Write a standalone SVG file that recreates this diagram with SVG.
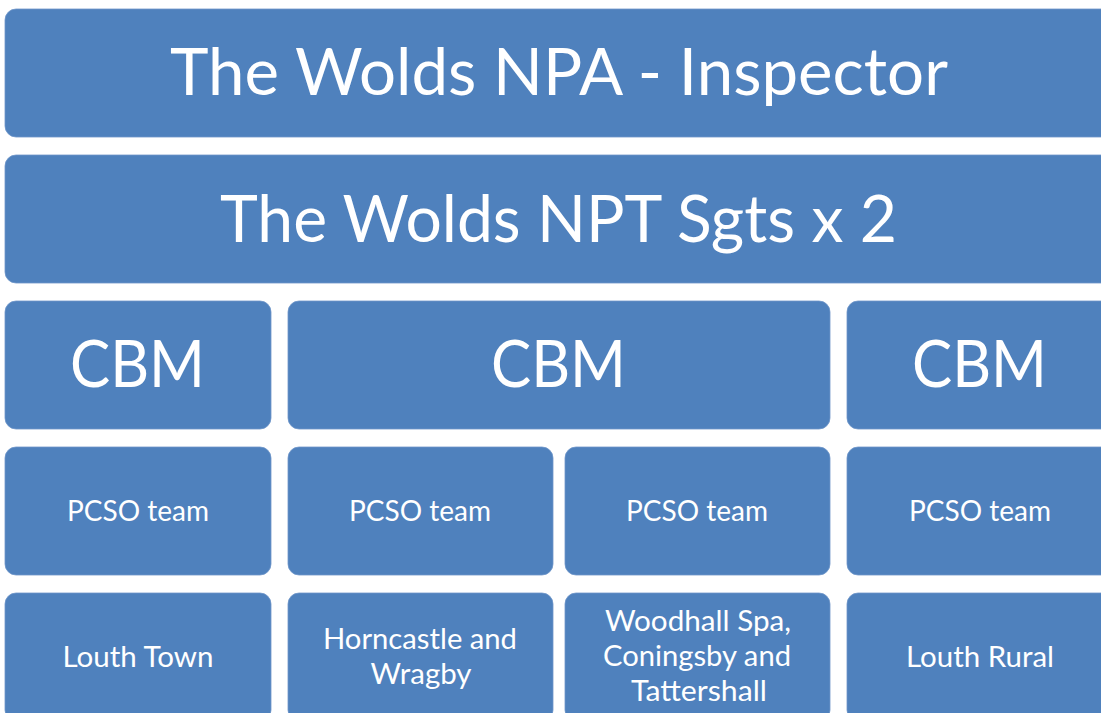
<svg xmlns="http://www.w3.org/2000/svg" width="1101" height="713" viewBox="0 0 1101 713">
  <style>
    .box { fill: #4F81BD; stroke: #6f96c9; stroke-width: 0.8; }
    .lbl { fill: #ffffff; font-family: Lato, "Open Sans", "Liberation Sans", sans-serif; text-anchor: middle; }
    .big { font-size: 66px; }
    .mid { font-size: 28px; }
  </style>
  <rect width="1101" height="713" fill="#ffffff"/>

  <!-- Level 1: inspector -->
  <g id="inspector">
    <rect class="box" x="5" y="9" width="1108" height="128" rx="11"/>
    <text class="lbl big" x="559" y="95" textLength="778" lengthAdjust="spacingAndGlyphs">The Wolds NPA - Inspector</text>
  </g>

  <!-- Level 2: sergeants -->
  <g id="sergeants">
    <rect class="box" x="5" y="155" width="1108" height="128" rx="11"/>
    <text class="lbl big" x="558.5" y="242" textLength="677" lengthAdjust="spacingAndGlyphs">The Wolds NPT Sgts x 2</text>
  </g>

  <!-- Level 3: community beat managers -->
  <g id="cbm-1">
    <rect class="box" x="5" y="301" width="266" height="128" rx="11"/>
    <text class="lbl big" x="137.5" y="387" textLength="135" lengthAdjust="spacingAndGlyphs">CBM</text>
  </g>
  <g id="cbm-2">
    <rect class="box" x="288" y="301" width="542" height="128" rx="11"/>
    <text class="lbl big" x="558.5" y="387" textLength="135" lengthAdjust="spacingAndGlyphs">CBM</text>
  </g>
  <g id="cbm-3">
    <rect class="box" x="847" y="301" width="266" height="128" rx="11"/>
    <text class="lbl big" x="979.5" y="387" textLength="135" lengthAdjust="spacingAndGlyphs">CBM</text>
  </g>

  <!-- Level 4: PCSO teams -->
  <g id="pcso-1">
    <rect class="box" x="5" y="447" width="266" height="128" rx="11"/>
    <text class="lbl mid" x="138" y="521" textLength="142" lengthAdjust="spacingAndGlyphs">PCSO team</text>
  </g>
  <g id="pcso-2">
    <rect class="box" x="288" y="447" width="265" height="128" rx="11"/>
    <text class="lbl mid" x="420" y="521" textLength="142" lengthAdjust="spacingAndGlyphs">PCSO team</text>
  </g>
  <g id="pcso-3">
    <rect class="box" x="565" y="447" width="265" height="128" rx="11"/>
    <text class="lbl mid" x="697" y="521" textLength="142" lengthAdjust="spacingAndGlyphs">PCSO team</text>
  </g>
  <g id="pcso-4">
    <rect class="box" x="847" y="447" width="266" height="128" rx="11"/>
    <text class="lbl mid" x="980" y="521" textLength="142" lengthAdjust="spacingAndGlyphs">PCSO team</text>
  </g>

  <!-- Level 5: areas covered -->
  <g id="area-louth-town">
    <rect class="box" x="5" y="593" width="266" height="128" rx="11"/>
    <text class="lbl mid" x="138" y="667" textLength="151" lengthAdjust="spacingAndGlyphs">Louth Town</text>
  </g>
  <g id="area-horncastle">
    <rect class="box" x="288" y="593" width="265" height="128" rx="11"/>
    <text class="lbl mid" x="420" y="649" textLength="194" lengthAdjust="spacingAndGlyphs">Horncastle and</text>
    <text class="lbl mid" x="421" y="684" textLength="101" lengthAdjust="spacingAndGlyphs">Wragby</text>
  </g>
  <g id="area-woodhall">
    <rect class="box" x="565" y="593" width="265" height="128" rx="11"/>
    <text class="lbl mid" x="698" y="631" textLength="186" lengthAdjust="spacingAndGlyphs">Woodhall Spa,</text>
    <text class="lbl mid" x="697" y="666" textLength="188" lengthAdjust="spacingAndGlyphs">Coningsby and</text>
    <text class="lbl mid" x="699" y="701" textLength="136" lengthAdjust="spacingAndGlyphs">Tattershall</text>
  </g>
  <g id="area-louth-rural">
    <rect class="box" x="847" y="593" width="266" height="128" rx="11"/>
    <text class="lbl mid" x="980" y="667" textLength="148" lengthAdjust="spacingAndGlyphs">Louth Rural</text>
  </g>

  <!-- No connector lines are drawn in this stacked layout -->
  <g id="connectors"/>
</svg>
